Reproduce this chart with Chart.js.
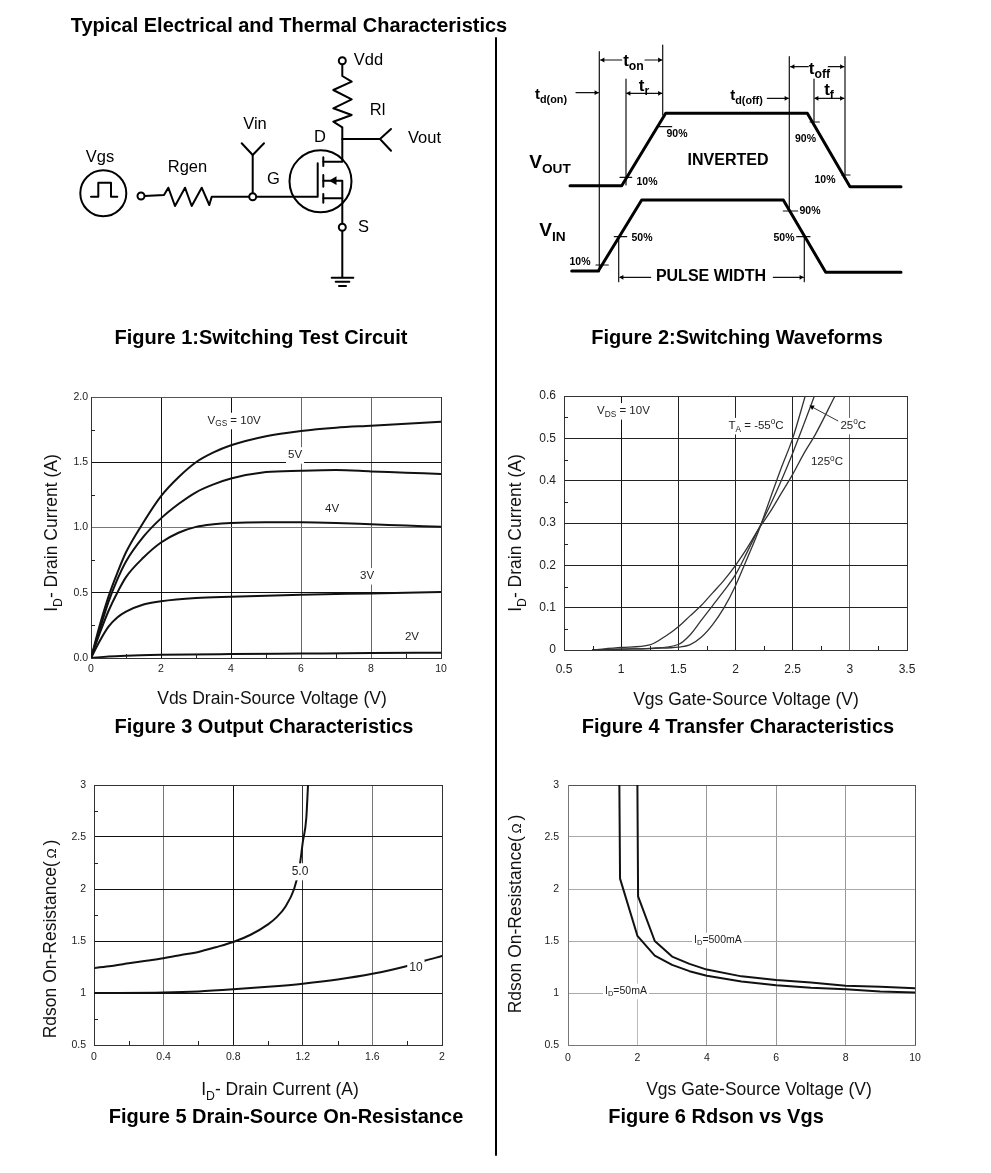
<!DOCTYPE html>
<html>
<head>
<meta charset="utf-8">
<script src="https://cdn.jsdelivr.net/npm/chart.js@4"></script>
<style>
html,body{margin:0;padding:0;background:#fff;width:991px;height:1173px;overflow:hidden}
body{position:relative;font-family:"Liberation Sans",Arial,sans-serif;color:#000}
canvas{position:absolute}
.t{position:absolute;white-space:nowrap;transform:translate(-50%,-50%);line-height:1}
.b{font-weight:bold;font-size:20px}
.a{font-size:17.5px;color:#111}
.r{transform:translate(-50%,-50%) rotate(-90deg)}
sub{font-size:70%;line-height:0}
.o{font-size:78%}
</style>
</head>
<body>
<canvas id="diagram" width="991" height="1173" style="left:0;top:0"></canvas>
<canvas id="fig3"></canvas>
<canvas id="fig4"></canvas>
<canvas id="fig5"></canvas>
<canvas id="fig6"></canvas>

<div class="t b" style="left:289px;top:25px">Typical Electrical and Thermal Characteristics</div>
<div class="t b" style="left:261px;top:337px">Figure 1:Switching Test Circuit</div>
<div class="t b" style="left:737px;top:337px">Figure 2:Switching Waveforms</div>
<div class="t b" style="left:264px;top:726px">Figure 3 Output Characteristics</div>
<div class="t b" style="left:738px;top:726px">Figure 4 Transfer Characteristics</div>
<div class="t b" style="left:286px;top:1116px">Figure 5 Drain-Source On-Resistance</div>
<div class="t b" style="left:716px;top:1116px">Figure 6 Rdson vs Vgs</div>

<div class="t a" style="left:272px;top:699px">Vds Drain-Source Voltage (V)</div>
<div class="t a" style="left:746px;top:700px">Vgs Gate-Source Voltage (V)</div>
<div class="t a" style="left:280px;top:1090px">I<sub>D</sub>- Drain Current (A)</div>
<div class="t a" style="left:759px;top:1090px">Vgs Gate-Source Voltage (V)</div>
<div class="t a r" style="left:52px;top:533px">I<sub>D</sub>- Drain Current (A)</div>
<div class="t a r" style="left:516px;top:533px">I<sub>D</sub>- Drain Current (A)</div>
<div class="t a r" style="left:51px;top:939px">Rdson On-Resistance(<span class="o">&#8201;Ω&#8201;</span>)</div>
<div class="t a r" style="left:516px;top:914px">Rdson On-Resistance(<span class="o">&#8201;Ω&#8201;</span>)</div>

<script>
/* ---------- Figure 3: Output characteristics [Vds, Id] ---------- */
const vgs10V=[[0,0],[0.25,0.25],[0.5,0.47],[0.75,0.65],[1,0.81],[1.5,1.04],[2,1.24],[2.5,1.385],[3,1.5],[3.5,1.575],[4,1.63],[5,1.7],[6,1.74],[7,1.765],[8,1.78],[9,1.795],[10,1.81]];
const vgs5V=[[0,0],[0.25,0.22],[0.5,0.43],[0.75,0.6],[1,0.74],[1.5,0.93],[2,1.07],[2.5,1.18],[3,1.27],[3.5,1.33],[4,1.375],[5,1.425],[6,1.435],[7,1.44],[8,1.43],[9,1.42],[10,1.41]];
const vgs4V=[[0,0],[0.25,0.19],[0.5,0.36],[0.75,0.5],[1,0.62],[1.5,0.77],[2,0.885],[2.5,0.96],[3,1.005],[3.5,1.025],[4,1.035],[5,1.04],[6,1.04],[7,1.035],[8,1.025],[9,1.015],[10,1.005]];
const vgs3V=[[0,0],[0.25,0.13],[0.5,0.24],[0.75,0.31],[1,0.355],[1.5,0.41],[2,0.435],[3,0.46],[4,0.47],[6,0.485],[8,0.495],[10,0.505]];
const vgs2V=[[0,0],[0.5,0.012],[1,0.018],[2,0.024],[4,0.03],[6,0.034],[8,0.038],[10,0.04]];
const fig3XTicks=[0,2,4,6,8,10], fig3XLabels=["0","2","4","6","8","10"];
const fig3YTicks=[0,0.5,1,1.5,2], fig3YLabels=["0.0","0.5","1.0","1.5","2.0"];
const fig3MinorX=[1,3,5,7,9], fig3MinorY=[0.25,0.75,1.25,1.75];

/* ---------- Figure 4: Transfer characteristics [Vgs, Id] ---------- */
const tempM55=[[0.75,0],[1,0.002],[1.3,0.004],[1.5,0.007],[1.6,0.012],[1.7,0.03],[1.8,0.06],[1.9,0.1],[2,0.152],[2.1,0.215],[2.2,0.28],[2.3,0.355],[2.4,0.43],[2.5,0.5],[2.61,0.6]];
const temp25=[[0.75,0],[1,0.002],[1.25,0.004],[1.5,0.013],[1.6,0.035],[1.7,0.07],[1.8,0.105],[1.9,0.14],[2,0.178],[2.1,0.23],[2.2,0.285],[2.3,0.34],[2.4,0.4],[2.5,0.465],[2.6,0.535],[2.69,0.6]];
const temp125=[[0.75,0],[1,0.006],[1.25,0.012],[1.4,0.035],[1.5,0.055],[1.6,0.08],[1.7,0.105],[1.8,0.135],[1.9,0.165],[2,0.2],[2.1,0.24],[2.2,0.285],[2.3,0.325],[2.4,0.37],[2.5,0.415],[2.6,0.465],[2.7,0.51],[2.87,0.6]];
const fig4Pointer=[[2.897,0.541],[2.67,0.574]];
const fig4XTicks=[0.5,1,1.5,2,2.5,3,3.5], fig4XLabels=["0.5","1","1.5","2","2.5","3","3.5"];
const fig4YTicks=[0,0.1,0.2,0.3,0.4,0.5,0.6], fig4YLabels=["0","0.1","0.2","0.3","0.4","0.5","0.6"];
const fig4MinorX=[0.75,1.25,1.75,2.25,2.75,3.25], fig4MinorY=[0.05,0.15,0.25,0.35,0.45,0.55];

/* ---------- Figure 5: On-resistance vs drain current [Id, Rdson] ---------- */
const vgs5p0=[[0,1.24],[0.1,1.26],[0.2,1.285],[0.3,1.31],[0.4,1.335],[0.5,1.365],[0.6,1.395],[0.7,1.44],[0.8,1.49],[0.9,1.56],[1,1.66],[1.05,1.73],[1.1,1.83],[1.15,2],[1.18,2.2],[1.2,2.45],[1.22,2.68],[1.23,3]];
const vgs10=[[0,1],[0.4,1.005],[0.6,1.015],[0.8,1.035],[1,1.06],[1.2,1.09],[1.4,1.13],[1.6,1.185],[1.8,1.26],[1.9,1.31],[2,1.355]];
const fig5XTicks=[0,0.4,0.8,1.2,1.6,2], fig5XLabels=["0","0.4","0.8","1.2","1.6","2"];
const rdsYTicks=[0.5,1,1.5,2,2.5,3], rdsYLabels=["0.5","1","1.5","2","2.5","3"];
const fig5MinorX=[0.2,0.6,1,1.4,1.8], fig5MinorY=[0.75,1.25,1.75,2.25,2.75];

/* ---------- Figure 6: On-resistance vs Vgs [Vgs, Rdson] ---------- */
const id50mA=[[1.48,3],[1.5,2.1],[2,1.55],[2.5,1.36],[3,1.27],[3.5,1.21],[4,1.165],[5,1.11],[6,1.075],[7,1.05],[8,1.035],[9,1.015],[10,1.005]];
const id500mA=[[2,3],[2.02,1.93],[2.5,1.5],[3,1.35],[3.5,1.28],[4,1.225],[5,1.16],[6,1.125],[7,1.1],[8,1.07],[9,1.06],[10,1.045]];
const fig6XTicks=[0,2,4,6,8,10], fig6XLabels=["0","2","4","6","8","10"];

/* ---------- Schematic drawings, in page units ---------- */
const circuitWires=[
 [[342.3,64],[342.3,76],[351.7,81.7],[333.3,90],[351.7,99.3],[333.3,108.3],[351.7,115],[333.3,121.7],[342.3,127.3],[342.3,161.7],[323.3,161.7]],
 [[342.3,139],[380,139]],[[391,129],[380,139],[391,150.7]],
 [[323.3,157.3],[323.3,166]],[[323.3,175],[323.3,186.7]],[[323.3,194],[323.3,202.7]],
 [[317.7,163.3],[317.7,196.7],[256,196.7]],
 [[323.3,198.3],[342.3,198.3]],[[323.3,180.7],[342.3,180.7],[342.3,223.3]],
 [[342.3,231],[342.3,277.3]],
 [[331.7,277.7],[353.3,277.7]],[[335.7,281.7],[349.3,281.7]],[[339,286],[346,286]],
 [[241.7,143.3],[252.7,155],[264,143.3]],[[252.7,155],[252.7,192.7]],
 [[144.3,196],[164,195],[168.3,187.7],[175,206],[185,187.7],[191.7,206],[201.7,187.7],[209.3,205],[211.7,196.7],[249,196.7]],
 [[91,196.7],[98.3,196.7],[98.3,182.7],[111,182.7],[111,196.7],[117.3,196.7]]
];
const circuitTerminals=[[342.3,60.7],[342.3,227.3],[252.7,196.7],[141,196]];
const circuitBodies=[[320.5,181.3],[103.3,193.3]];
const fetArrow=[[334,180.7]];
const waveThick=[
 [[570,185.7],[621.7,185.7],[665.7,113.3],[807.3,113.3],[850,186.7],[901,186.7]],
 [[571.7,271],[598.3,271],[641.7,200],[783.3,200],[825.7,272.3],[901,272.3]]
];
const waveThin=[
 [[599.3,51.7],[599.3,271.7]],[[662.7,45],[662.7,115]],[[626,79],[626,185]],[[789.3,56.7],[789.3,210]],
 [[845,56.7],[845,175]],[[814,79],[814,121.7]],[[618.7,236.7],[618.7,281.7]],[[804.3,236.7],[804.3,281.7]],
 [[659.3,126.7],[671.7,126.7]],[[810,122],[819.3,122]],[[620,177.3],[631.7,177.3]],[[841.7,175],[850,175]],
 [[783.3,211],[797.7,211]],[[614.3,236.7],[626.7,236.7]],[[796.7,236.7],[810,236.7]],[[596,265],[608.3,265]],
 [[600.7,60],[621.7,60]],[[645,60],[661.7,60]],[[576,92.7],[598.3,92.7]],[[626.7,93.3],[661.7,93.3]],
 [[767.3,98.3],[788.3,98.3]],[[790.7,66.7],[808.3,66.7]],[[828.3,66.7],[844,66.7]],[[815,98.3],[844,98.3]],
 [[620,277.3],[650.7,277.3]],[[773.3,277.3],[803.3,277.3]]
];
const arrowLeft=[[603,60],[629,93.3],[793,66.7],[817,98.3],[622,277.3]];
const arrowRight=[[659.5,60],[596,92.7],[659.5,93.3],[786,98.3],[841.5,66.7],[841.5,98.3],[801,277.3]];
const dividerLine=[[496,38],[496,1155]];

const diagramText=[
 ["Vdd",368.5,60,16.5,0],["Rl",377.5,110,16.5,0],["Vin",255,124,16.5,0],["D",320,137,16.5,0],["Vout",424.5,138,16.5,0],
 ["Vgs",100,157,16.5,0],["Rgen",187.5,167,16.5,0],["G",273.5,179,16.5,0],["S",363.5,227,16.5,0],
 ["t_{on}",633.5,61,17,1],["t_{r}",644,86,17,1],["t_{d(on)}",551,95,15,1],["t_{d(off)}",746.5,96,15,1],
 ["t_{off}",819.5,69,17,1],["t_{f}",829,90,17,1],
 ["V_{OUT}",550,163,19,1],["V_{IN}",552.5,231,19,1],
 ["INVERTED",728,161,16,1],["PULSE WIDTH",711,277,16,1],
 ["90%",677,134,10.5,1],["90%",805.5,139,10.5,1],["10%",647,182,10.5,1],["10%",825,180,10.5,1],
 ["90%",810,211,10.5,1],["50%",642,238,10.5,1],["50%",784,238,10.5,1],["10%",580,262,10.5,1]
];
const fig3Text=[["V_{GS} = 10V",4.09,1.82,11.5,0],["5V",5.83,1.556,11.5,0],["4V",6.89,1.14,11.5,0],["3V",7.89,0.63,11.5,0],["2V",9.17,0.16,11.5,0]];
const fig4Text=[["V_{DS} = 10V",1.02,0.565,11.5,0],["T_{A} = -55^{o}C",2.18,0.53,11.5,0],["25^{o}C",3.03,0.53,11.5,0],["125^{o}C",2.8,0.444,11.5,0]];
const fig5Text=[["5.0",1.184,2.17,12,0],["10",1.85,1.24,12,0]];
const fig6Text=[["I_{D}=500mA",4.32,1.51,10.5,0],["I_{D}=50mA",1.67,1.02,10.5,0]];

/* ---------- Helpers ---------- */
const FONT='"Liberation Sans", Arial, sans-serif';
const xy=p=>p.map(([x,y])=>({x,y}));

function splitRuns(s){
  return s.split(/(_\{[^}]*\}|\^\{[^}]*\})/).filter(Boolean).map(r=>{
    if(r[0]==='_'&&r[1]==='{')return{t:r.slice(2,-1),k:'sub'};
    if(r[0]==='^'&&r[1]==='{')return{t:r.slice(2,-1),k:'sup'};
    return{t:r,k:''};
  });
}
function drawRich(ctx,s,px,py,size,bold,knock){
  const runs=splitRuns(s);
  const w=f=>(bold?'bold ':'')+f+'px '+FONT;
  let total=0;
  runs.forEach(r=>{r.size=r.k?size*0.72:size;ctx.font=w(r.size);r.w=ctx.measureText(r.t).width;total+=r.w;});
  let cx=px-total/2;
  if(knock){ctx.fillStyle='#fff';ctx.fillRect(cx-2,py-size/2-2,total+4,size+5);}
  ctx.fillStyle=knock?'#222':'#000';ctx.textBaseline='middle';ctx.textAlign='left';
  runs.forEach(r=>{
    ctx.font=w(r.size);
    const dy=r.k==='sub'?size*0.32:r.k==='sup'?-size*0.32:0;
    ctx.fillText(r.t,cx,py+dy);cx+=r.w;
  });
}
const textPlugin=(items,knock,minorX,minorY)=>({
  id:'annotate',
  afterDatasetsDraw(chart){
    const {ctx,scales:{x,y}}=chart;
    ctx.save();
    if(minorX){
      ctx.strokeStyle='#222';ctx.lineWidth=1;ctx.beginPath();
      minorX.forEach(v=>{const p=Math.round(x.getPixelForValue(v))+0.5;ctx.moveTo(p,y.bottom);ctx.lineTo(p,y.bottom-4);});
      minorY.forEach(v=>{const p=Math.round(y.getPixelForValue(v))+0.5;ctx.moveTo(x.left,p);ctx.lineTo(x.left+4,p);});
      ctx.stroke();
    }
    items.forEach(([s,a,b,size,bold])=>drawRich(ctx,s,x.getPixelForValue(a),y.getPixelForValue(b),size,!!bold,knock));
    ctx.restore();
  }
});
const curve=(d,width,color,tension)=>({data:xy(d),showLine:true,borderColor:color,borderWidth:width,pointRadius:0,fill:false,
  tension:tension?0.4:0,cubicInterpolationMode:tension?'monotone':'default',borderCapStyle:'round',borderJoinStyle:'round'});

function plot(id,g){
  const el=document.getElementById(id);
  const W=g.width+g.yW+g.rightPad, H=g.height+g.topPad+g.xH;
  el.width=W;el.height=H;el.style.left=(g.left-g.yW)+'px';el.style.top=(g.top-g.topPad)+'px';
  const axis=(ticks,labels,colors,min,max,pad,fit)=>({
    type:'linear',min,max,
    afterBuildTicks:s=>{s.ticks=ticks.map(value=>({value}));},
    afterFit:s=>{fit(s);s.paddingLeft=0;s.paddingRight=0;s.paddingTop=0;s.paddingBottom=0;},
    border:{display:true,color:g.border,width:1},
    grid:{drawTicks:false,lineWidth:1,color:c=>colors[ticks.indexOf(c.tick?c.tick.value:-1)]||g.border},
    ticks:{autoSkip:false,maxRotation:0,minRotation:0,padding:pad,color:'#222',font:{family:FONT,size:g.fontSize},
      callback:(v,i)=>labels[i]}
  });
  return new Chart(el,{
    type:'scatter',
    data:{datasets:g.datasets},
    plugins:[textPlugin(g.text,true,g.minorX,g.minorY)],
    options:{
      responsive:false,animation:false,devicePixelRatio:1,events:[],
      layout:{autoPadding:false,padding:{top:g.topPad,right:g.rightPad,left:0,bottom:0}},
      plugins:{legend:{display:false},tooltip:{enabled:false}},
      scales:{
        x:axis(g.xTicks,g.xLabels,g.xColors,g.xMin,g.xMax,g.xPad,s=>{s.height=g.xH;}),
        y:axis(g.yTicks,g.yLabels,g.yColors,g.yMin,g.yMax,g.yPad,s=>{s.width=g.yW;})
      }
    }
  });
}

/* ---------- Figures ---------- */
Chart.defaults.font.family=FONT;

plot('fig3',{left:91,top:397,width:350,height:261,yW:41,rightPad:16,topPad:8,xH:24,fontSize:10.5,border:'#333',xPad:5,yPad:3,
  xMin:0,xMax:10,yMin:0,yMax:2,xTicks:fig3XTicks,xLabels:fig3XLabels,yTicks:fig3YTicks,yLabels:fig3YLabels,
  xColors:['#333','#111','#111','#666','#666','#333'],yColors:['#333','#111','#777','#111','#555'],
  minorX:fig3MinorX,minorY:fig3MinorY,text:fig3Text,
  datasets:[vgs10V,vgs5V,vgs4V,vgs3V,vgs2V].map(d=>curve(d,2,'#111',true))});

const pointerDs=curve(fig4Pointer,1,'#333',false);
const pointerHead={data:xy(fig4Pointer.slice(1)),pointStyle:'triangle',pointRadius:3,pointRotation:-62,backgroundColor:'#000',borderWidth:0};
plot('fig4',{left:564,top:396,width:343,height:254,yW:40,rightPad:18,topPad:10,xH:32,fontSize:12,border:'#333',xPad:12,yPad:8,
  xMin:0.5,xMax:3.5,yMin:0,yMax:0.6,xTicks:fig4XTicks,xLabels:fig4XLabels,yTicks:fig4YTicks,yLabels:fig4YLabels,
  xColors:['#333','#111','#222','#222','#222','#666','#333'],yColors:['#333','#222','#222','#222','#222','#222','#333'],
  minorX:fig4MinorX,minorY:fig4MinorY,text:fig4Text,
  datasets:[pointerHead,pointerDs,...[tempM55,temp25,temp125].map(d=>curve(d,1.3,'#333',true))]});

plot('fig5',{left:94,top:785,width:348,height:260,yW:36,rightPad:16,topPad:8,xH:24,fontSize:10.5,border:'#333',xPad:6,yPad:8,
  xMin:0,xMax:2,yMin:0.5,yMax:3,xTicks:fig5XTicks,xLabels:fig5XLabels,yTicks:rdsYTicks,yLabels:rdsYLabels,
  xColors:['#333','#777','#111','#333','#777','#333'],yColors:['#333','#111','#111','#111','#111','#333'],
  minorX:fig5MinorX,minorY:fig5MinorY,text:fig5Text,
  datasets:[vgs5p0,vgs10].map(d=>curve(d,2,'#111',true))});

plot('fig6',{left:568,top:785,width:347,height:260,yW:36,rightPad:16,topPad:8,xH:24,fontSize:10.5,border:'#777',xPad:7,yPad:9,
  xMin:0,xMax:10,yMin:0.5,yMax:3,xTicks:fig6XTicks,xLabels:fig6XLabels,yTicks:rdsYTicks,yLabels:rdsYLabels,
  xColors:['#555','#bbb','#999','#999','#999','#555'],yColors:['#555','#aaa','#aaa','#aaa','#aaa','#555'],
  text:fig6Text,
  datasets:[id50mA,id500mA].map(d=>curve(d,2,'#111',false))});

/* ---------- Schematic layer ---------- */
new Chart(document.getElementById('diagram'),{
  type:'scatter',
  data:{datasets:[
    {data:xy(circuitTerminals),pointRadius:3.5,pointBackgroundColor:'#fff',pointBorderColor:'#000',pointBorderWidth:2},
    {data:xy(circuitBodies),pointRadius:[31,23],pointBackgroundColor:'rgba(0,0,0,0)',pointBorderColor:'#000',pointBorderWidth:2},
    {data:xy(fetArrow),pointStyle:'triangle',pointRadius:5,pointRotation:-90,pointBackgroundColor:'#000',pointBorderWidth:0},
    {data:xy(arrowLeft),pointStyle:'triangle',pointRadius:2.8,pointRotation:-90,pointBackgroundColor:'#000',pointBorderWidth:0},
    {data:xy(arrowRight),pointStyle:'triangle',pointRadius:2.8,pointRotation:90,pointBackgroundColor:'#000',pointBorderWidth:0},
    ...circuitWires.map(d=>curve(d,2,'#000',false)),
    ...waveThick.map(d=>curve(d,3,'#000',false)),
    ...waveThin.map(d=>curve(d,1.2,'#111',false)),
    curve(dividerLine,2,'#000',false)
  ]},
  plugins:[textPlugin(diagramText,false)],
  options:{
    responsive:false,animation:false,devicePixelRatio:1,events:[],
    layout:{autoPadding:false,padding:0},
    plugins:{legend:{display:false},tooltip:{enabled:false}},
    scales:{
      x:{type:'linear',min:0,max:991,display:false},
      y:{type:'linear',min:0,max:1173,reverse:true,display:false}
    }
  }
});
</script>
</body>
</html>
